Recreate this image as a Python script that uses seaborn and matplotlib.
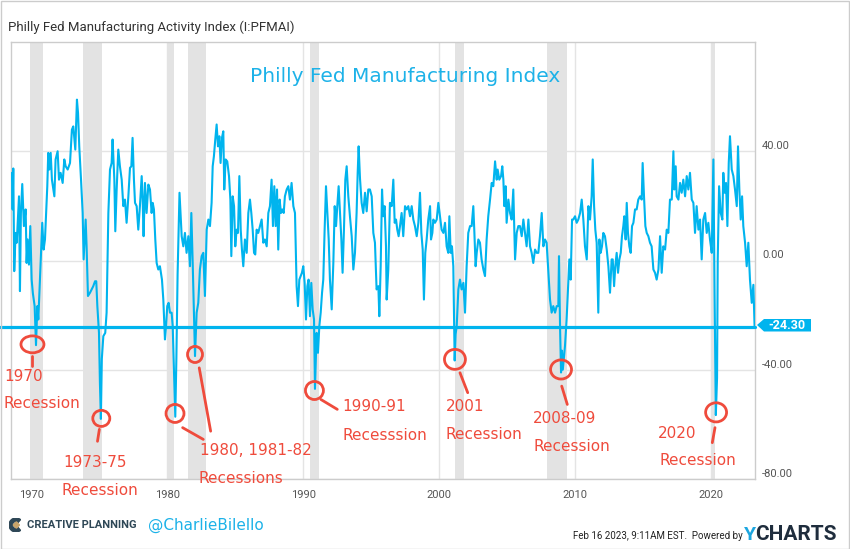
import matplotlib
matplotlib.use("Agg")
import matplotlib.pyplot as plt
import matplotlib.transforms as mtransforms
from matplotlib.patches import Ellipse, Polygon, Rectangle, Wedge
import seaborn as sns
import pandas as pd

# ---------------- data ----------------
years = [
    1968.58, 1968.63, 1968.68, 1968.75, 1968.85, 1968.93, 1968.97, 1969.10, 1969.17, 1969.24,
    1969.34, 1969.46, 1969.59, 1969.66, 1969.73, 1969.83, 1969.93, 1970.03, 1970.12, 1970.25,
    1970.35, 1970.45, 1970.52, 1970.64, 1970.81, 1970.91, 1971.01, 1971.18, 1971.25, 1971.33,
    1971.43, 1971.52, 1971.70, 1971.79, 1971.94, 1972.04, 1972.16, 1972.31, 1972.43, 1972.53,
    1972.68, 1972.85, 1972.99, 1973.09, 1973.24, 1973.36, 1973.44, 1973.53, 1973.66, 1973.78,
    1973.85, 1974.00, 1974.07, 1974.17, 1974.32, 1974.56, 1974.69, 1974.78, 1974.86, 1974.98,
    1975.05, 1975.12, 1975.19, 1975.30, 1975.44, 1975.54, 1975.67, 1975.79, 1975.91, 1975.98,
    1976.11, 1976.18, 1976.28, 1976.40, 1976.52, 1976.65, 1976.77, 1976.89, 1977.01, 1977.14,
    1977.26, 1977.36, 1977.45, 1977.55, 1977.63, 1977.75, 1977.87, 1977.99, 1978.12, 1978.19,
    1978.26, 1978.36, 1978.48, 1978.61, 1978.73, 1978.85, 1978.93, 1979.02, 1979.12, 1979.22,
    1979.34, 1979.46, 1979.61, 1979.71, 1979.83, 1979.91, 1980.00, 1980.10, 1980.20, 1980.32,
    1980.40, 1980.50, 1980.59, 1980.67, 1980.76, 1980.90, 1981.06, 1981.18, 1981.30, 1981.42,
    1981.55, 1981.67, 1981.77, 1981.87, 1981.96, 1982.04, 1982.16, 1982.28, 1982.40, 1982.53,
    1982.65, 1982.77, 1982.90, 1983.02, 1983.14, 1983.26, 1983.34, 1983.43, 1983.53, 1983.63,
    1983.73, 1983.83, 1983.92, 1984.02, 1984.12, 1984.19, 1984.29, 1984.41, 1984.54, 1984.64,
    1984.71, 1984.81, 1984.91, 1985.00, 1985.10, 1985.20, 1985.30, 1985.40, 1985.49, 1985.59,
    1985.71, 1985.84, 1985.96, 1986.08, 1986.18, 1986.28, 1986.38, 1986.47, 1986.57, 1986.69,
    1986.82, 1986.94, 1987.06, 1987.18, 1987.31, 1987.43, 1987.55, 1987.67, 1987.77, 1987.87,
    1987.97, 1988.07, 1988.16, 1988.26, 1988.36, 1988.46, 1988.56, 1988.65, 1988.78, 1988.90,
    1989.02, 1989.14, 1989.27, 1989.39, 1989.51, 1989.61, 1989.71, 1989.81, 1989.90, 1990.00,
    1990.10, 1990.20, 1990.30, 1990.39, 1990.49, 1990.59, 1990.69, 1990.79, 1990.86, 1990.98,
    1991.08, 1991.18, 1991.28, 1991.38, 1991.47, 1991.57, 1991.67, 1991.77, 1991.87, 1991.96,
    1992.09, 1992.21, 1992.31, 1992.41, 1992.50, 1992.60, 1992.70, 1992.80, 1992.89, 1992.99,
    1993.09, 1993.19, 1993.31, 1993.43, 1993.56, 1993.68, 1993.80, 1993.92, 1994.00, 1994.07,
    1994.17, 1994.29, 1994.41, 1994.54, 1994.66, 1994.78, 1994.90, 1995.03, 1995.15, 1995.27,
    1995.39, 1995.52, 1995.59, 1995.69, 1995.79, 1995.88, 1995.98, 1996.08, 1996.13, 1996.25,
    1996.37, 1996.50, 1996.62, 1996.72, 1996.82, 1996.91, 1997.01, 1997.11, 1997.23, 1997.35,
    1997.48, 1997.60, 1997.72, 1997.85, 1997.97, 1998.09, 1998.21, 1998.34, 1998.46, 1998.58,
    1998.68, 1998.78, 1998.87, 1998.97, 1999.07, 1999.19, 1999.32, 1999.39, 1999.49, 1999.56,
    1999.68, 1999.81, 1999.93, 2000.05, 2000.17, 2000.30, 2000.42, 2000.54, 2000.66, 2000.74,
    2000.84, 2000.93, 2001.03, 2001.08, 2001.13, 2001.20, 2001.28, 2001.40, 2001.52, 2001.64,
    2001.77, 2001.89, 2002.01, 2002.13, 2002.26, 2002.38, 2002.50, 2002.58, 2002.67, 2002.75,
    2002.87, 2002.99, 2003.11, 2003.24, 2003.36, 2003.48, 2003.60, 2003.73, 2003.85, 2003.97,
    2004.10, 2004.22, 2004.29, 2004.41, 2004.54, 2004.63, 2004.71, 2004.78, 2004.88, 2004.95,
    2005.08, 2005.20, 2005.32, 2005.44, 2005.57, 2005.69, 2005.81, 2005.93, 2006.06, 2006.18,
    2006.30, 2006.42, 2006.55, 2006.67, 2006.79, 2006.91, 2007.04, 2007.16, 2007.28, 2007.40,
    2007.53, 2007.65, 2007.77, 2007.89, 2008.02, 2008.14, 2008.26, 2008.38, 2008.51, 2008.63,
    2008.75, 2008.80, 2008.88, 2008.95, 2009.02, 2009.08, 2009.15, 2009.24, 2009.36, 2009.49,
    2009.56, 2009.66, 2009.76, 2009.85, 2009.98, 2010.10, 2010.22, 2010.35, 2010.47, 2010.59,
    2010.71, 2010.84, 2010.96, 2011.08, 2011.20, 2011.28, 2011.38, 2011.47, 2011.57, 2011.69,
    2011.77, 2011.86, 2011.96, 2012.06, 2012.18, 2012.31, 2012.43, 2012.55, 2012.67, 2012.75,
    2012.85, 2012.94, 2013.04, 2013.14, 2013.24, 2013.34, 2013.43, 2013.53, 2013.60, 2013.70,
    2013.78, 2013.87, 2013.97, 2014.07, 2014.17, 2014.27, 2014.39, 2014.51, 2014.63, 2014.76,
    2014.88, 2014.95, 2015.05, 2015.15, 2015.25, 2015.37, 2015.49, 2015.61, 2015.74, 2015.86,
    2015.98, 2016.11, 2016.23, 2016.35, 2016.47, 2016.60, 2016.72, 2016.84, 2016.96, 2017.09,
    2017.21, 2017.28, 2017.38, 2017.45, 2017.58, 2017.70, 2017.82, 2017.94, 2018.07, 2018.19,
    2018.31, 2018.43, 2018.56, 2018.68, 2018.80, 2018.92, 2019.05, 2019.17, 2019.29, 2019.41,
    2019.54, 2019.66, 2019.78, 2019.90, 2020.03, 2020.15, 2020.24, 2020.33, 2020.42, 2020.47,
    2020.57, 2020.69, 2020.81, 2020.88, 2020.98, 2021.08, 2021.18, 2021.28, 2021.37, 2021.50,
    2021.62, 2021.74, 2021.87, 2021.96, 2022.06, 2022.16, 2022.26, 2022.35, 2022.48, 2022.60,
    2022.72, 2022.84, 2022.97, 2023.09, 2023.18,
]
values = [
    32.1, 18.7, 33.7, -3.9, 10.1, 6.5, 10.1, 23.5, -11.2, 17.4,
    28.0, 12.6, 18.7, -0.9, 7.7, -1.5, 12.6, -7.0, -12.0, -16.7,
    -31.0, -16.7, -21.6, -7.0, 13.8, 4.0, 7.7, 27.2, 39.4, 33.3,
    39.4, 29.6, 23.5, 37.0, 40.0, 29.6, 32.1, 28.4, 37.0, 34.5,
    33.3, 35.7, 47.9, 49.1, 40.6, 58.9, 54.0, 41.8, 29.6, 17.4,
    0.4, 15.0, 5.2, -13.0, -11.8, -9.4, -7.6, -7.6, -16.7, -26.5,
    -45.0, -58.0, -36.0, -27.7, -26.5, -19.1, 17.4, 33.3, 35.7, 44.3,
    29.6, 10.7, 26.0, 40.6, 34.5, 29.6, 19.9, 22.3, 13.8, 23.5,
    33.9, 34.5, 44.9, 29.6, 21.1, 19.9, 11.3, 19.9, 30.9, 22.3,
    8.9, 28.4, 17.4, 27.8, 26.0, 17.4, 21.1, 18.7, 7.7, -0.9,
    -3.3, -2.1, -7.0, -14.3, -28.9, -24.0, -16.7, -15.5, -19.1, -19.1,
    -24.0, -42.0, -57.2, -36.0, -5.0, 24.8, 8.9, 5.2, 10.1, 2.8,
    8.9, -2.1, 17.4, -0.9, -19.1, -35.0, -19.1, -15.5, -3.3, 1.6,
    2.8, -13.0, 11.3, 15.0, 12.6, 21.1, 34.5, 38.2, 44.3, 49.8,
    41.8, 45.5, 35.7, 44.9, 47.3, 26.0, 37.0, 36.3, 30.9, 22.3,
    1.6, 23.5, 19.9, 5.2, 11.3, 10.1, 30.9, 11.3, 4.0, -2.1,
    7.7, 2.8, 17.4, 22.3, 17.4, 11.3, 2.8, 2.2, 11.3, 10.1,
    12.6, 15.0, 6.5, 7.7, 5.2, 17.4, 19.9, 29.6, 12.6, 27.2,
    12.6, 26.0, 4.0, 22.3, 17.4, 18.7, 17.4, 23.5, 26.0, 27.2,
    22.3, 28.4, 19.9, 17.4, -9.4, -16.7, -7.0, -5.7, -4.5, -2.1,
    -8.2, -21.6, -9.4, -7.0, -20.4, -8.2, -17.9, -21.6, -47.0, -26.5,
    -33.8, -24.0, -19.1, -11.8, -7.0, 11.3, 27.2, 17.4, 7.7, -7.0,
    -17.9, -0.9, 19.9, 12.6, 19.9, 27.2, 17.4, 7.7, -4.5, 11.3,
    29.6, 34.5, 23.5, 16.2, 8.9, -3.3, 2.8, 17.4, 32.1, 41.8,
    30.0, 21.1, 17.4, 24.8, 18.0, 26.0, 26.0, 23.5, 10.1, 6.5,
    -10.6, -9.4, -20.4, -2.1, 26.0, 16.2, 19.9, 5.2, -14.3, -3.3,
    21.1, 19.9, 29.6, 13.8, 15.0, 11.3, 8.9, 12.6, 17.4, 8.9,
    19.9, 18.7, 19.9, 16.2, 19.9, 15.0, 12.6, 8.9, 13.8, 24.8,
    10.1, 4.0, -14.3, 2.8, 7.7, 15.0, 19.9, 7.7, 10.1, 15.0,
    13.8, 15.0, 21.1, 16.2, 11.3, 10.1, 13.8, 5.2, 2.8, 16.2,
    2.8, 5.2, -2.1, -20.0, -36.6, -27.0, -24.0, -10.6, -7.0, -10.6,
    -8.2, -19.1, -2.1, 10.1, 12.6, 12.6, 19.9, 10.1, -2.1, 2.8,
    7.7, 6.5, 0.4, -3.3, -5.7, 7.7, 16.2, 22.3, 28.4, 27.2,
    36.3, 29.6, 33.3, 29.6, 30.9, 34.5, 29.6, 19.9, 27.2, 13.8,
    22.3, 17.4, 15.0, 26.0, 0.4, 10.1, 12.6, 12.6, 8.9, 15.0,
    10.1, 5.2, 15.0, 5.2, 2.8, -0.9, 4.0, 2.8, 2.8, 8.9,
    17.4, 5.2, 7.7, 6.5, -4.5, -14.3, -19.1, -16.7, -19.1, -16.7,
    -16.7, 1.6, -25.0, -41.0, -33.0, -40.0, -36.0, -31.3, -21.6, -7.0,
    0.4, -7.0, 15.0, 15.0, 16.2, 13.8, 15.0, 17.4, 22.3, 15.0,
    5.2, 0.4, 19.9, 15.0, 23.5, 37.0, 19.9, 11.3, 6.5, -19.1,
    7.7, 2.8, 5.2, 10.1, 8.9, 4.0, -2.1, -11.8, 0.4, 0.4,
    -9.4, -2.1, 2.8, -4.5, 0.4, 2.8, 8.9, 12.6, 16.2, 7.7,
    21.1, 10.1, 5.2, 2.8, 12.6, 13.8, 18.7, 18.7, 22.3, 23.5,
    22.3, 35.7, 23.5, 12.6, 10.1, 8.9, 6.5, 5.2, -3.3, -4.5,
    -7.0, -3.3, 8.9, -4.5, 5.2, 4.0, 11.3, 10.1, 22.3, 22.3,
    40.0, 26.0, 34.5, 23.5, 22.3, 28.4, 24.8, 29.6, 23.5, 30.9,
    26.0, 32.1, 22.3, 21.1, 10.1, 19.9, 11.3, 15.0, 0.4, 15.0,
    17.4, 10.1, 13.8, 7.7, 2.8, 37.0, -12.7, -56.6, -43.0, 0.4,
    27.2, 17.4, 15.0, 32.1, 24.8, 28.4, 12.6, 35.7, 45.5, 33.3,
    30.9, 26.0, 19.9, 41.8, 26.0, 15.0, 23.5, 12.6, 6.5, -2.1,
    6.5, -7.0, -15.5, -8.9, -24.3,
]

rec_start = [1969.92, 1973.83, 1980.00, 1981.50, 1990.50, 2001.17, 2007.92, 2020.08]
rec_end = [1970.83, 1975.17, 1980.50, 1982.83, 1991.17, 2001.83, 2009.42, 2020.25]
last_value = -24.30
y_ticks = [40, 0, -40, -80]
x_ticks = [1970, 1980, 1990, 2000, 2010, 2020]

# annotation layout: circle (x, y, w, h), connector, text lines (x, y, text)
annotations = [
    dict(circles=[(1970.09, -30.7, 1.69, 6.2)],
         lines=[((1970.05, -35.1), (1970.05, -38.8))],
         texts=[(1967.99, -42.4, "1970"), (1967.99, -52.3, "Recession")]),
    dict(circles=[(1975.15, -57.8, 1.25, 5.9)],
         lines=[((1975.01, -61.8), (1974.87, -66.2))],
         texts=[(1972.33, -73.9, "1973-75"), (1972.26, -84.2, "Recession")]),
    dict(circles=[(1980.57, -56.0, 1.32, 6.6), (1982.04, -34.4, 1.10, 5.9)],
         lines=[((1981.13, -61.2), (1982.65, -65.5)), ((1982.35, -39.3), (1983.19, -62.5))],
         texts=[(1982.40, -69.5, "1980, 1981-82"), (1982.32, -79.8, "Recessions")]),
    dict(circles=[(1990.82, -47.6, 1.32, 6.6)],
         lines=[((1991.30, -50.9), (1992.50, -54.5))],
         texts=[(1992.85, -53.4, "1990-91"), (1992.85, -64.0, "Recesssion")]),
    dict(circles=[(2001.15, -36.2, 1.54, 7.3)],
         lines=[((2001.52, -41.1), (2002.09, -48.4))],
         texts=[(2000.47, -53.6, "2001"), (2000.47, -63.8, "Recession")]),
    dict(circles=[(2008.95, -39.9, 1.54, 7.0)],
         lines=[((2009.00, -46.0), (2009.41, -52.7))],
         texts=[(2006.89, -57.8, "2008-09"), (2006.89, -68.2, "Recession")]),
    dict(circles=[(2020.35, -55.6, 1.54, 7.0)],
         lines=[((2020.27, -61.2), (2020.07, -66.7))],
         texts=[(2016.10, -63.3, "2020"), (2016.17, -73.4, "Recession")]),
]

# ---------------- styling ----------------
sns.set_theme(style="white")
plt.rcParams['font.family'] = ['Roboto', 'DejaVu Sans']

W, H = 850, 549
LINE = '#00b4ee'
RED = '#ef4b3c'
BLUE_TXT = '#1db2e8'


def fx(px):
    return px / W


def fy(py):
    return 1 - py / H


fig = plt.figure(figsize=(W / 100, H / 100), dpi=100)
fig.patch.set_facecolor('white')
ax = fig.add_axes([fx(10.7), fy(479), fx(755) - fx(10.7), fy(42) - fy(479)])
ax.set_facecolor('white')

for s, e in zip(rec_start, rec_end):
    ax.axvspan(s, e, color='#e3e3e3', lw=0, zorder=1)

df = pd.DataFrame({'year': years, 'value': values})
sns.lineplot(data=df, x='year', y='value', ax=ax, color=LINE, lw=1.5, zorder=3)

ax.axhline(last_value, xmin=-0.0144, xmax=1, color=LINE, lw=2.3, clip_on=False, zorder=4)

ax.set_xlim(1968.49, 2023.21)
ax.set_ylim(-80, 80)
ax.set_xticks(x_ticks)
ax.set_xticklabels([str(t) for t in x_ticks])
ax.yaxis.tick_right()
ax.set_yticks(y_ticks)
ax.set_yticklabels([f"{t:.2f}" for t in y_ticks])
ax.tick_params(axis='both', length=0, labelsize=8, labelcolor='#555555')
ax.tick_params(axis='x', pad=8)
ax.tick_params(axis='y', pad=5)
offset = mtransforms.ScaledTranslation(0, 6 / 100, fig.dpi_scale_trans)
for tick in ax.yaxis.get_major_ticks():
    tick.label1.set_transform(tick.label1.get_transform() + offset)
    tick.label2.set_transform(tick.label2.get_transform() + offset)
ax.grid(True, color='#e4e4e4', lw=1)
ax.set_axisbelow(True)
for sp in ax.spines.values():
    sp.set_color('#cccccc')
    sp.set_linewidth(1)
ax.set_xlabel('')
ax.set_ylabel('')

# annotations
for a in annotations:
    for (cx, cy, w, h) in a['circles']:
        ax.add_patch(Ellipse((cx, cy), w, h, fill=False, ec=RED, lw=2.0,
                             clip_on=False, zorder=5))
    for (p1, p2) in a['lines']:
        ax.plot([p1[0], p2[0]], [p1[1], p2[1]], color=RED, lw=2.0,
                solid_capstyle='round', clip_on=False, zorder=5)
    for (tx, ty, s) in a['texts']:
        ax.text(tx, ty, s, color=RED, fontsize=11, ha='left', va='center',
                family=['DejaVu Sans'], clip_on=False, zorder=6)

# last-value tag
tag = [(757, 325), (764, 319), (811, 319), (811, 331.5), (764, 331.5)]
fig.add_artist(Polygon([(fx(x), fy(y)) for x, y in tag], closed=True,
                       transform=fig.transFigure, fc=LINE, ec='none', zorder=10))
fig.text(fx(786.5), fy(325.3), f"{last_value:.2f}", color='white', fontsize=9,
         fontweight='bold', ha='center', va='center', zorder=11)

# titles
fig.text(fx(8), fy(27), "Philly Fed Manufacturing Activity Index (I:PFMAI)",
         fontsize=9.5, color='#333333', ha='left', va='center')
fig.text(fx(405), fy(77), "Philly Fed Manufacturing Index", fontsize=14.5,
         color=BLUE_TXT, ha='center', va='center', family=['DejaVu Sans'])

# footer
logo_ax = fig.add_axes([fx(9), fy(532), fx(14), 14 / H])
logo_ax.set_xlim(-1, 1)
logo_ax.set_ylim(-1, 1)
logo_ax.set_aspect('equal')
logo_ax.axis('off')
logo_ax.add_patch(Wedge((0, 0), 1, 50, 310, width=0.5, color='#2e4756'))
logo_ax.add_patch(Polygon([(0.05, 0.45), (0.5, 0), (0.05, -0.45), (-0.4, 0)],
                          closed=True, color='#c8a46a'))
fig.text(fx(27), fy(525), "CREATIVE PLANNING", fontsize=8, fontweight='bold',
         color='#2e4756', ha='left', va='center')
fig.text(fx(148), fy(525), "@CharlieBilello", fontsize=11, color=BLUE_TXT,
         ha='left', va='center', family=['DejaVu Sans'])
fig.text(fx(743), fy(536), "Feb 16 2023, 9:11AM EST.  Powered by", fontsize=7,
         color='#222222', ha='right', va='center')
fig.text(fx(744), fy(535), "Y", fontsize=14, fontweight='bold', color='#1ba6e0',
         ha='left', va='center')
fig.text(fx(755), fy(535), "CHARTS", fontsize=15, fontweight='bold', color='#1f2d3d',
         ha='left', va='center')

# outer border
fig.add_artist(Rectangle((0.5 / W, 0.5 / H), 1 - 1.5 / W, 1 - 1.5 / H,
                         transform=fig.transFigure, fill=False, ec='#cccccc', lw=1))

fig.savefig('out.png', dpi=100, facecolor='white')
